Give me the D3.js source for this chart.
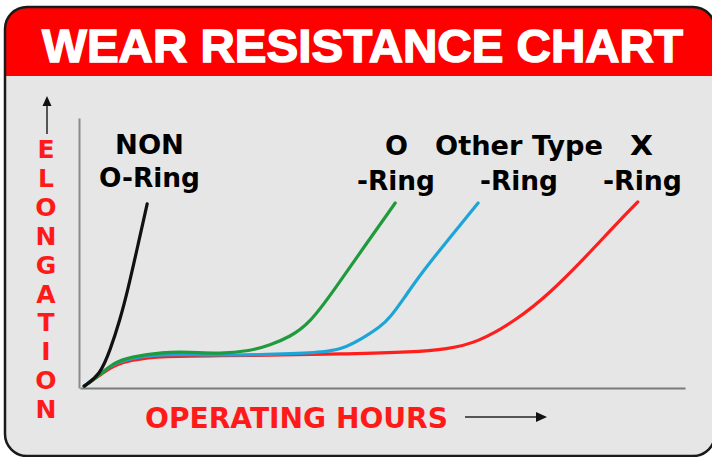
<!DOCTYPE html>
<html>
<head>
<meta charset="utf-8">
<script src="https://cdn.jsdelivr.net/npm/d3@7"></script>
<style>
  html, body { margin: 0; padding: 0; background: #ffffff; }
  svg { display: block; }
  text { font-family: "DejaVu Sans", "Liberation Sans", Arial, sans-serif; font-weight: bold; }
  text.title { font-family: "Liberation Sans", Arial, sans-serif; }
</style>
</head>
<body>
<svg width="712" height="457"></svg>
<script>

// curves, x = operating hours, y = elongation (relative units 0-100)
const non_oring = [[0.7,0.7],[3.3,4.8],[5.0,14.1],[6.6,25.2],[7.9,36.3],[9.4,51.1],[11.1,68.2]];
const o_ring = [[0.7,0.7],[3.3,4.8],[5.5,9.3],[8.3,11.5],[13.7,13.3],[18.2,13.3],[23.1,12.6],[28.1,13.7],
    [31.4,15.9],[34.7,18.9],[38.0,24.1],[41.8,35.6],[47.4,53.7],[52.1,68.5]];
const other_ring = [[0.7,0.7],[3.3,5.2],[5.5,8.9],[8.3,11.1],[13.7,12.6],[19.8,12.2],[28.1,12.2],[33.1,12.6],
    [41.3,13.3],[44.1,15.2],[46.8,18.5],[49.6,22.6],[51.2,25.9],[53.7,33.7],[56.2,41.9],[61.2,55.9],[65.8,68.5]];
const x_ring = [[0.7,0.7],[3.3,4.8],[5.5,8.2],[8.3,10.4],[13.7,11.9],[23.1,11.9],[33.1,12.2],[44.1,12.6],
    [55.0,13.3],[60.7,14.4],[65.6,16.7],[72.2,25.2],[77.7,35.2],[83.1,47.4],[88.8,61.1],[92.2,68.9]];

const series_names = ["X -Ring", "Other Type -Ring", "O -Ring", "NON O-Ring"];
const series_values = [x_ring, other_ring, o_ring, non_oring];
const series_colors = ["#ff1e1e", "#1ea5d8", "#1f9a3c", "#111111"];

const title = "WEAR RESISTANCE CHART";
const y_label = "ELONGATION";
const x_label = "OPERATING HOURS";

const svg = d3.select('svg');

const width = 712;
const height = 457;

// frame

svg.append("defs")
    .append("clipPath")
    .attr("id", "frame")
    .append("rect")
    .attr("x", 5).attr("y", 7)
    .attr("width", 710).attr("height", 449)
    .attr("rx", 22);

const frame = svg.append("g").attr("clip-path", "url(#frame)");

frame.append("rect")
    .attr("x", 0).attr("y", 0)
    .attr("width", width).attr("height", height)
    .attr("fill", "#e6e6e6");

frame.append("rect")
    .attr("x", 0).attr("y", 0)
    .attr("width", width).attr("height", 76)
    .attr("fill", "#ff0000");

svg.append("rect")
    .attr("x", 5).attr("y", 7)
    .attr("width", 710).attr("height", 449)
    .attr("rx", 22)
    .attr("fill", "none")
    .attr("stroke", "#1a1a1a")
    .attr("stroke-width", 2.5);

svg.append("text")
    .attr("class", "title")
    .attr("x", 42)
    .attr("y", 62)
    .attr("textLength", 641)
    .attr("lengthAdjust", "spacingAndGlyphs")
    .attr("font-size", 46)
    .attr("fill", "#ffffff")
    .attr("stroke", "#ffffff")
    .attr("stroke-width", 1.4)
    .text(title);

// scales

const x = d3.scaleLinear().domain([0, 100]).range([80, 685]);
const y = d3.scaleLinear().domain([0, 100]).range([388, 118]);

const axes = svg.append("g").attr("class", "axes");

axes.append("g")
    .attr("transform", `translate(0, ${y(0)})`)
    .call(d3.axisBottom(x).tickValues([]).tickSizeOuter(0))
    .call(g => g.select(".domain").attr("stroke", "#7a7a7a").attr("stroke-width", 2.2));

axes.append("g")
    .attr("transform", `translate(${x(0) - 1}, 0)`)
    .call(d3.axisLeft(y).tickValues([]).tickSizeOuter(0))
    .call(g => g.select(".domain").attr("stroke", "#8a8a8a").attr("stroke-width", 2));

// curves

const line = d3.line()
    .x(d => x(d[0]))
    .y(d => y(d[1]))
    .curve(d3.curveBasis);

svg.append("g")
    .attr("class", "curves")
    .selectAll("path")
    .data(series_values)
    .join("path")
    .attr("d", line)
    .attr("fill", "none")
    .attr("stroke", (d, i) => series_colors[i])
    .attr("stroke-width", 3.2)
    .attr("stroke-linecap", "round");

// labels above the curve ends

const label_layout = [
    {lines: [["X", 630, 155, 23], ["-Ring", 603, 190, 79]]},
    {lines: [["Other Type", 435, 155, 168], ["-Ring", 480, 190, 78]]},
    {lines: [["O", 385, 155, 23], ["-Ring", 357, 190, 78]]},
    {lines: [["NON", 115, 154, 69], ["O-Ring", 99, 187, 101]]}
];

const labels = svg.append("g").attr("class", "labels");

label_layout.forEach(l => {
    l.lines.forEach(([t, lx, ly, len]) => {
        labels.append("text")
            .attr("x", lx)
            .attr("y", ly)
            .attr("textLength", len)
            .attr("lengthAdjust", "spacingAndGlyphs")
            .attr("font-size", 26)
            .attr("fill", "#000000")
            .text(t);
    });
});

// y title, one letter under the other

svg.append("g")
    .attr("class", "y-title")
    .selectAll("text")
    .data(y_label.split(""))
    .join("text")
    .attr("x", 46)
    .attr("y", (d, i) => 158 + i * 28.9)
    .attr("text-anchor", "middle")
    .attr("font-size", 25)
    .attr("fill", "#ff1a1a")
    .text(d => d);

svg.append("line")
    .attr("x1", 47).attr("x2", 47)
    .attr("y1", 134).attr("y2", 104)
    .attr("stroke", "#555555")
    .attr("stroke-width", 2);

svg.append("path")
    .attr("d", "M47,96 L42.5,106 L51.5,106 Z")
    .attr("fill", "#111111");

// x title

svg.append("text")
    .attr("x", 145)
    .attr("y", 428)
    .attr("textLength", 303)
    .attr("lengthAdjust", "spacingAndGlyphs")
    .attr("font-size", 28)
    .attr("fill", "#ff1a1a")
    .text(x_label);

svg.append("line")
    .attr("x1", 465).attr("x2", 537)
    .attr("y1", 417).attr("y2", 417)
    .attr("stroke", "#555555")
    .attr("stroke-width", 2);

svg.append("path")
    .attr("d", "M547,417 L536,412 L536,422 Z")
    .attr("fill", "#111111");

</script>
</body>
</html>
